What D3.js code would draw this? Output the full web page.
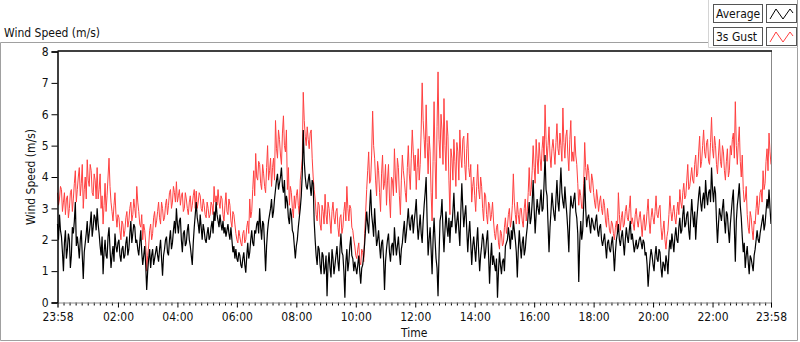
<!DOCTYPE html>
<html><head><meta charset="utf-8">
<script src="https://cdn.jsdelivr.net/npm/d3@7"></script>
<style>
html,body{margin:0;padding:0;background:#fff;}
svg{display:block;}
text{font-family:"DejaVu Sans Condensed","DejaVu Sans",Tahoma,sans-serif;font-size:12px;fill:#111;}
</style></head>
<body><svg id="c" width="800" height="342"></svg>
<script>
// ---- data: readings every 2 minutes from 23:58 to 23:58 ----
// gust / avg: readings at 23:58 + 4k minutes
// gustMid / avgMid: readings at 23:58 + 4k + 2 minutes
const sampleMinutes = 2;
const gust = [
3.5,3.3,3.6,3.2,2.8,3.4,3.0,3.6,3.3,4.2,
3.6,4.3,3.8,3.0,4.0,4.55,3.7,4.2,3.4,3.9,
4.3,3.6,3.0,2.5,3.8,3.4,4.6,3.2,2.6,3.5,
2.4,2.7,2.0,2.5,2.3,2.9,2.6,3.2,2.8,3.0,
3.7,2.9,2.4,2.0,2.3,1.0,1.8,2.5,2.2,2.9,
2.6,3.2,2.5,3.0,2.7,3.3,3.1,3.6,3.2,3.5,
3.85,3.4,3.1,3.5,3.0,3.3,2.8,3.4,3.1,3.6,
3.55,3.2,3.4,2.9,3.1,2.7,3.0,2.8,3.1,3.7,
3.4,3.6,3.0,3.3,2.6,3.5,2.8,3.1,2.4,2.8,
2.2,1.9,2.1,1.8,2.3,2.0,2.6,3.3,2.9,4.2,
4.75,3.9,4.4,3.6,4.1,3.5,5.0,4.2,3.7,4.6,
5.8,4.6,5.2,4.4,5.95,4.8,3.6,3.1,3.5,2.7,
3.0,3.6,2.8,4.2,6.7,5.3,5.6,4.9,5.5,4.0,
3.3,2.6,3.1,2.3,2.9,3.45,2.5,3.0,2.2,3.2,
2.5,3.0,2.1,2.8,2.4,3.2,3.7,2.6,3.0,2.3,
1.8,1.4,1.9,1.2,1.6,2.2,3.6,4.8,3.9,6.1,
4.6,3.4,4.2,2.9,4.7,3.8,3.1,4.4,2.7,3.9,
4.9,3.5,4.3,2.8,4.7,3.9,3.2,5.0,3.6,5.5,
4.2,3.6,4.9,4.4,7.0,5.2,6.3,4.1,4.8,2.6,
6.4,3.3,7.35,4.6,5.5,6.5,4.2,5.3,2.8,4.6,
5.2,3.7,4.8,5.5,4.3,5.3,3.9,5.4,4.0,3.2,
4.0,2.9,4.4,3.3,3.7,2.6,3.4,2.5,3.1,2.8,
2.6,2.0,2.5,1.7,2.2,1.9,2.7,2.4,3.0,2.6,
4.1,2.8,3.2,2.5,3.0,2.4,3.3,2.9,4.3,3.6,
5.0,3.8,4.6,5.1,4.2,5.3,6.3,4.5,5.6,4.3,
5.2,4.4,5.7,4.7,5.0,6.2,4.6,5.5,4.2,5.8,
4.8,5.3,4.4,3.1,3.4,3.0,5.1,3.9,4.2,3.5,
3.9,3.2,3.6,2.9,3.4,2.8,3.1,2.4,2.7,2.2,
2.5,2.0,2.6,3.5,2.3,2.9,2.5,3.1,2.6,3.4,
2.7,2.3,3.0,2.4,2.9,2.1,2.8,2.5,3.3,2.2,
3.0,2.5,3.4,2.7,3.1,2.0,2.6,1.7,2.3,3.4,
2.6,3.1,2.5,3.2,3.6,3.0,3.8,3.4,4.4,3.7,
4.3,3.8,4.7,4.1,5.3,4.5,5.5,4.6,5.2,4.4,
5.9,4.6,5.0,4.1,5.2,4.3,4.8,3.9,4.9,4.2,
4.7,5.4,6.4,4.4,5.6,4.0,3.6,3.3,2.8,2.2,
2.7,2.0,2.5,3.4,3.1,3.6,4.2,3.8,4.9,5.4,
4.4
];
const gustMid = [
3.1,3.7,2.9,3.5,3.3,2.7,3.5,2.9,3.8,3.2,
4.0,3.4,4.4,3.6,3.3,3.9,4.4,3.5,4.1,3.3,
3.3,4.1,3.4,3.1,2.9,4.0,3.7,2.9,3.1,2.8,
2.8,2.3,2.6,2.1,2.7,2.4,3.0,2.6,3.3,2.7,
3.2,2.5,2.8,2.5,1.9,1.5,2.3,2.0,2.7,2.4,
2.9,2.7,3.2,2.6,3.1,2.8,3.5,3.0,3.7,3.2,
3.2,3.6,3.4,2.9,3.5,3.0,3.2,2.9,3.4,3.0,
3.0,3.5,3.0,3.3,2.8,3.2,2.7,3.2,2.8,3.2,
3.1,3.2,3.4,2.8,3.1,2.9,3.3,2.6,2.9,2.5,
2.0,2.3,1.9,2.2,1.9,2.4,2.2,2.7,3.6,3.4,
4.0,4.5,3.8,4.4,3.7,4.3,3.9,4.6,4.3,3.9,
4.9,5.5,4.7,5.4,5.0,5.5,4.3,3.7,3.0,3.4,
3.4,3.1,3.9,4.6,5.8,5.0,5.2,5.4,4.6,3.6,
2.8,3.2,2.5,3.1,2.5,2.8,3.2,2.6,2.9,2.7,
2.9,2.4,2.7,2.2,2.9,2.6,3.0,3.1,2.4,2.0,
1.5,1.7,1.3,1.7,1.3,2.9,4.2,3.8,4.7,5.0,
3.9,4.5,3.5,4.1,3.6,4.4,3.9,3.3,4.0,3.4,
4.0,4.6,3.4,3.9,4.2,3.5,4.3,4.1,4.6,4.8,
4.7,4.3,3.9,5.5,5.8,4.6,5.1,5.3,3.5,4.5,
4.5,5.6,5.2,6.0,4.4,5.0,5.8,3.9,4.9,3.9,
4.5,5.1,3.9,4.7,5.2,4.4,4.9,4.3,4.4,3.7,
3.4,3.7,3.6,4.0,3.0,3.5,2.8,3.2,2.6,3.2,
2.2,2.4,1.9,2.3,1.8,2.4,2.2,2.8,2.4,3.1,
3.2,2.5,2.8,3.0,2.6,3.0,2.6,3.5,3.4,4.2,
4.3,5.2,4.1,4.6,4.9,4.5,5.2,5.0,4.7,4.9,
4.8,5.1,4.9,5.4,4.5,5.1,5.3,4.7,5.2,4.5,
4.5,4.7,3.8,3.6,3.0,3.8,4.3,4.4,3.6,4.1,
3.5,3.0,3.3,3.2,3.0,3.3,2.6,3.0,2.3,2.6,
2.2,2.4,2.2,2.8,2.7,2.4,2.9,2.7,3.0,2.5,
2.5,2.8,2.6,2.7,2.5,2.6,2.3,2.9,2.6,2.7,
2.7,2.9,2.8,3.0,2.4,2.3,2.0,2.1,2.8,2.9,
2.9,2.7,2.9,2.8,3.2,3.5,3.3,3.9,3.6,4.0,
3.9,4.4,4.0,4.8,4.3,5.0,4.8,5.1,4.5,5.1,
4.9,5.3,4.4,4.7,4.5,5.0,4.2,4.5,4.0,5.0,
5.2,4.6,5.0,5.1,4.5,4.7,3.2,3.7,2.4,2.9,
2.3,2.6,3.0,2.8,3.5,3.2,3.6,4.5,4.2,4.8
];
const avg = [
2.5,2.8,2.1,1.0,2.3,1.7,2.0,1.5,2.2,3.2,
2.1,1.4,2.3,0.75,1.9,2.6,2.2,2.9,2.4,2.7,
3.0,2.2,1.5,0.9,2.0,1.4,2.4,1.1,1.8,2.2,
1.6,2.0,1.3,1.8,1.5,2.1,1.7,2.6,2.2,2.4,
2.0,1.5,2.3,1.2,1.8,0.4,1.4,1.1,1.7,1.4,
1.8,1.3,2.0,0.85,1.7,2.1,1.5,2.3,1.9,2.6,
3.0,2.2,2.7,1.6,2.3,1.9,2.5,1.8,1.2,2.4,
3.2,2.5,2.8,2.0,2.3,1.9,2.4,2.1,2.6,2.9,
3.2,2.6,2.8,2.3,2.2,2.1,2.5,2.0,2.0,1.8,
1.7,1.3,1.5,1.1,1.6,0.95,1.9,1.6,2.3,1.8,
2.2,2.6,3.0,2.0,2.5,1.0,2.3,2.8,3.3,2.9,
3.6,4.1,3.8,4.3,3.5,3.0,3.2,2.5,2.8,2.2,
1.4,2.0,2.7,3.4,5.5,4.0,3.6,4.1,3.4,3.8,
2.0,1.2,1.7,0.9,1.5,1.1,0.2,1.6,0.8,1.4,
1.2,1.8,1.0,2.2,1.5,0.15,1.7,1.3,2.1,1.4,
1.3,0.9,1.5,0.6,1.2,1.9,2.9,2.2,3.6,2.5,
3.0,1.8,2.3,1.4,2.0,0.4,1.7,2.2,1.3,1.9,
2.4,1.5,2.1,1.2,1.9,2.6,2.2,3.0,2.3,2.8,
2.6,3.3,2.0,2.8,1.9,3.1,4.0,1.5,2.4,0.9,
2.7,1.4,0.2,2.6,3.3,1.6,2.9,2.1,1.9,2.4,
3.5,2.2,2.9,1.8,3.8,2.4,3.1,1.6,2.6,1.2,
2.1,1.3,2.4,1.0,1.8,2.0,1.6,2.3,0.6,1.9,
1.5,1.0,0.15,1.6,0.9,1.4,1.8,2.0,2.1,2.3,
2.6,2.0,0.8,2.3,1.4,2.1,1.7,2.4,3.2,2.7,
3.9,2.2,3.3,2.8,3.6,3.0,4.7,3.4,1.6,2.9,
3.1,2.6,3.9,2.9,4.3,3.2,3.7,2.8,1.6,3.4,
3.0,3.5,2.7,0.65,2.6,2.3,4.0,2.4,2.8,2.2,
2.6,2.3,2.8,2.1,2.5,1.8,2.2,1.4,2.0,1.6,
2.1,1.0,2.0,2.5,1.8,2.3,1.5,2.4,1.9,2.6,
2.2,1.6,2.0,1.8,2.1,1.7,1.9,1.6,0.5,1.4,
1.5,1.0,1.8,1.3,1.6,0.8,1.2,1.5,0.9,2.0,
2.2,1.6,2.4,1.9,2.7,2.3,3.1,2.5,2.9,2.0,
3.3,2.4,2.0,3.0,3.7,2.9,3.5,3.9,3.1,3.6,
4.3,3.2,3.5,1.9,3.0,2.6,3.3,2.2,2.8,1.9,
2.9,3.6,1.3,3.1,3.8,2.7,1.6,1.1,1.8,0.9,
1.4,1.0,1.7,2.3,1.9,2.4,2.8,2.5,3.3,3.6,
2.5
];
const avgMid = [
2.0,2.3,1.6,1.9,1.4,2.2,1.1,2.4,2.6,1.8,
1.8,2.0,1.5,1.6,2.2,1.9,2.5,2.1,2.8,2.3,
2.5,1.8,2.1,1.6,1.5,2.1,1.7,1.5,1.3,1.8,
1.9,1.5,1.7,1.4,1.9,1.5,2.2,1.9,2.5,1.9,
1.7,1.9,1.6,1.5,1.2,1.0,1.7,1.5,1.2,1.6,
1.5,1.7,1.4,1.5,2.0,1.6,2.0,1.7,2.3,2.2,
2.5,2.6,2.0,2.2,1.8,2.3,2.0,1.5,1.9,2.8,
2.7,2.2,2.4,2.5,2.0,2.2,2.0,2.4,2.2,2.6,
2.8,2.4,2.5,2.6,2.4,2.3,2.2,2.4,1.6,1.4,
1.4,1.6,1.2,1.4,1.2,1.5,1.4,2.0,1.9,2.3,
2.5,2.2,2.4,2.6,1.8,1.8,2.6,3.0,2.7,3.3,
3.9,3.6,4.0,3.7,3.9,3.4,2.7,3.0,2.3,1.8,
1.8,2.4,3.0,4.1,4.5,3.7,3.9,3.7,3.9,2.6,
1.5,1.8,1.2,1.6,0.9,1.5,1.2,1.1,1.7,0.9,
1.5,1.3,1.7,1.6,1.0,1.3,1.0,1.8,1.5,1.0,
1.1,1.2,1.0,1.1,1.5,2.4,2.5,3.0,2.8,2.1,
2.4,2.0,1.8,1.9,1.4,1.3,2.0,1.6,1.8,1.5,
1.9,1.8,1.6,1.7,2.3,1.9,2.6,2.5,2.7,2.2,
2.9,2.5,2.4,2.2,2.6,3.5,2.6,2.0,1.7,2.0,
2.0,1.1,1.5,2.8,2.3,2.3,2.4,2.7,2.6,2.9,
2.7,2.6,2.3,2.9,3.0,2.8,2.3,2.2,1.9,1.8,
1.7,1.9,1.6,1.5,2.2,1.4,2.0,1.5,1.4,1.2,
1.2,1.4,1.0,1.2,1.3,1.0,1.9,2.4,1.7,2.0,
2.3,1.6,1.7,1.8,1.9,1.5,2.1,2.8,2.5,3.2,
3.0,2.8,3.0,3.2,2.9,3.8,3.6,2.5,2.4,3.5,
2.8,3.3,3.2,3.6,3.5,3.0,3.2,2.3,2.7,3.1,
3.3,2.9,2.2,1.9,2.0,3.1,3.0,2.7,2.5,2.7,
2.4,2.6,2.3,2.4,2.0,2.0,1.8,1.9,1.7,1.9,
1.6,1.6,2.2,2.0,2.1,1.9,2.0,2.1,2.3,2.0,
1.9,1.8,1.7,2.0,1.9,2.0,1.5,1.2,1.0,1.7,
1.2,1.5,1.4,1.7,1.1,1.3,1.0,1.3,1.6,1.7,
1.9,2.1,2.0,2.4,2.2,2.8,2.4,2.8,2.3,2.7,
2.8,2.9,2.6,3.4,3.2,3.3,3.0,3.4,3.5,3.2,
3.6,3.7,2.6,2.5,2.8,3.0,2.6,2.9,2.3,2.5,
3.3,2.4,2.6,3.4,3.1,2.1,1.9,1.5,1.3,1.5,
1.2,1.5,2.0,2.0,2.2,2.6,2.3,2.9,3.0,3.0
];
const yTicks = [0,1,2,3,4,5,6,7,8];
const xMajorLabels = ["23:58","02:00","04:00","06:00","08:00","10:00","12:00","14:00","16:00","18:00","20:00","22:00","23:58"];
const seriesNames = ["Average","3s Gust"];
const seriesColors = ["#000000","#ff4040"];
const chartTitle = "Wind Speed (m/s)";
const yTitle = "Wind Speed (m/s)";
const xTitle = "Time";

// merge the two reading sets into one time-ordered table per series
function merge(a, m){ const out=[]; a.forEach((v,i)=>{ out.push(v); if(i<m.length) out.push(m[i]); }); return out; }
const gustAll = merge(gust, gustMid);
const avgAll = merge(avg, avgMid);

// ---- layout ----
const svg = d3.select("#c");
const L = 57.5, R = 771, T = 51.5, B = 302.5;
const start = new Date(2000,0,1,23,58);
const end = new Date(start.getTime() + 1440*60000);
const times = gustAll.map((_,i)=> new Date(start.getTime() + i*sampleMinutes*60000));
const x = d3.scaleTime().domain([start,end]).range([L,R]);
const y = d3.scaleLinear().domain([0,8]).range([B,T]);

// outer frame
svg.append("path").attr("d","M0.5,42.5 H708").attr("stroke","#a0a0a0").attr("fill","none");
svg.append("path").attr("d","M0.5,42.5 V340.5 H797.5 V0").attr("stroke","#a0a0a0").attr("fill","none");
svg.append("path").attr("d","M708.5,0 V47.5 H797.5").attr("stroke","#d4d4d4").attr("fill","none");

svg.append("text").attr("x",4).attr("y",37).text(chartTitle);

// legend
seriesNames.forEach((n,k)=>{
  const yy = 4 + k*23;
  svg.append("rect").attr("x",713.5).attr("y",yy+0.5).attr("width",49).attr("height",18)
     .attr("fill","#fff").attr("stroke","#555");
  svg.append("text").attr("x",716).attr("y",yy+14).text(n);
  svg.append("rect").attr("x",766.5).attr("y",yy+0.5).attr("width",30).attr("height",18)
     .attr("fill","#fff").attr("stroke","#555");
  svg.append("path").attr("d",`M770,${yy+15} L776,${yy+5} L783,${yy+15} L790,${yy+5} L793,${yy+9}`)
     .attr("stroke",seriesColors[k]).attr("fill","none").attr("stroke-width",1);
});

svg.append("rect").attr("x",L).attr("y",T).attr("width",R-L).attr("height",B-T).attr("fill","#fff");

// series
const line = d3.line().x((d,i)=>x(times[i])).y(d=>y(d));
svg.append("path").datum(gustAll).attr("d",line).attr("fill","none")
   .attr("stroke",seriesColors[1]).attr("stroke-width",1);
svg.append("path").datum(avgAll).attr("d",line).attr("fill","none")
   .attr("stroke",seriesColors[0]).attr("stroke-width",1.2);

// frame borders
svg.append("line").attr("x1",R+0.5).attr("x2",R+0.5).attr("y1",T).attr("y2",B+1).attr("stroke","#888");
svg.append("line").attr("x1",L).attr("x2",R+1).attr("y1",T-0.5).attr("y2",T-0.5).attr("stroke","#000").attr("stroke-width",1.5);

// y axis
const yAxis = d3.axisLeft(y).tickValues(yTicks).tickFormat(d3.format("d")).tickSize(6).tickPadding(3);
const gy = svg.append("g").attr("transform",`translate(${L},0)`).call(yAxis);
gy.select(".domain").attr("stroke","#000").attr("stroke-width",1.5);
gy.selectAll("text").style("font-size","12px").attr("fill","#111");

// x axis
const majors = [start];
for (let h=2; h<=22; h+=2) majors.push(new Date(2000,0,2,h,0));
majors.push(end);
const minors = [];
for (let k=0;k<majors.length-1;k++){
  const a=majors[k].getTime(), b=majors[k+1].getTime();
  for (let j=1;j<10;j++) minors.push(new Date(a+(b-a)*j/10));
}
const gxMinor = svg.append("g").attr("transform",`translate(0,${B})`)
  .call(d3.axisBottom(x).tickValues(minors).tickFormat("").tickSize(3));
gxMinor.select(".domain").remove();
const gx = svg.append("g").attr("transform",`translate(0,${B})`)
  .call(d3.axisBottom(x).tickValues(majors).tickFormat((d,i)=>xMajorLabels[i]).tickSize(5).tickPadding(5));
gx.select(".domain").attr("stroke","#888");
gx.selectAll(".tick line").attr("stroke","#000");
gx.selectAll("text").style("font-size","12px").attr("fill","#111");

// titles
svg.append("text").attr("transform",`translate(35,${(T+B)/2}) rotate(-90)`)
   .attr("text-anchor","middle").attr("fill","#2a4275").text(yTitle);
svg.append("text").attr("x",(L+R)/2).attr("y",337).attr("text-anchor","middle").text(xTitle);
</script></body></html>
